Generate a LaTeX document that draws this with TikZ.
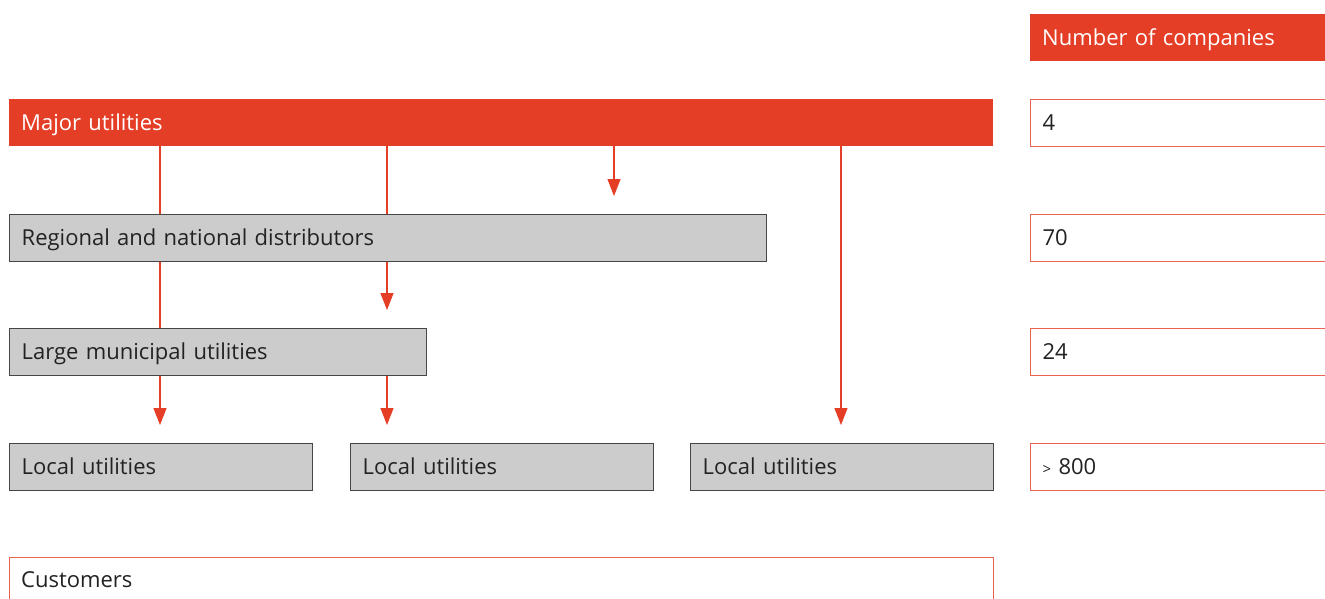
\documentclass[tikz,border=0pt]{standalone}
\usepackage{fontspec}
\setmainfont{Open Sans}
\usetikzlibrary{arrows.meta,backgrounds}
\definecolor{brandred}{RGB}{229,62,38}
\definecolor{edgered}{RGB}{236,98,80}
\definecolor{boxgray}{RGB}{204,204,204}
\definecolor{edgegray}{RGB}{70,70,70}
\definecolor{txt}{RGB}{34,34,34}
\begin{document}
\begin{tikzpicture}[x=1pt,y=-1pt,
  base/.style={rectangle, anchor=north west, minimum height=47pt,
    inner xsep=12pt, inner ysep=0pt, align=left,
    text height=18pt, text depth=3pt,
    font=\fontsize{22}{26}\selectfont, text=txt},
  redbar/.style={base, fill=brandred, draw=none, text=white},
  graybox/.style={base, fill=boxgray, draw=edgegray, line width=1.4pt},
  outlinebox/.style={base, fill=white, draw=edgered, line width=1.2pt},
  conn/.style={draw=brandred, line width=1.2pt,
    -{Triangle[width=13pt,length=17pt]}},
]
\clip (0,0) rectangle (1325,598);

% right column: number of companies
\node[redbar, minimum width=320pt, text width=296pt] (hdr) at (1030,14) {Number of companies};
\node[outlinebox, minimum width=320pt, text width=296pt] (n1) at (1030,99) {4};
\node[outlinebox, minimum width=320pt, text width=296pt] (n2) at (1030,214) {70};
\node[outlinebox, minimum width=320pt, text width=296pt] (n3) at (1030,328) {24};
\node[outlinebox, minimum width=320pt, text width=296pt] (n4) at (1030,443) {{\fontsize{15}{26}\selectfont >} 800};

% hierarchy
\node[redbar, minimum width=984pt, text width=960pt] (major) at (9,99) {Major utilities};
\node[graybox, minimum width=757pt, text width=733pt] (regional) at (9,214) {Regional and national distributors};
\node[graybox, minimum width=417pt, text width=393pt] (large) at (9,328) {Large municipal utilities};
\node[graybox, minimum width=303pt, text width=279pt] (localA) at (9,443) {Local utilities};
\node[graybox, minimum width=303pt, text width=279pt] (localB) at (350,443) {Local utilities};
\node[graybox, minimum width=303pt, text width=279pt] (localC) at (690,443) {Local utilities};
\node[outlinebox, minimum width=984pt, minimum height=70pt] (cust) at (9,557) {};
\node[anchor=base west, inner sep=0pt, font=\fontsize{22}{26}\selectfont, text=txt]
  (custtext) at (21,587) {Customers};

% connector columns
\coordinate (colA) at (160,0);
\coordinate (colB) at (387,0);
\coordinate (colC) at (614,0);
\coordinate (colD) at (841,0);

\begin{scope}[on background layer]
\fill[white] (0,0) rectangle (1325,598);
\draw[conn] (major.south -| colA) -- ([yshift=18pt]localA.north -| colA);
\draw[conn] (major.south -| colB) -- ([yshift=18pt]large.north -| colB);
\draw[conn] (large.south -| colB) -- ([yshift=18pt]localB.north -| colB);
\draw[conn] (major.south -| colC) -- ([yshift=18pt]regional.north -| colC);
\draw[conn] (major.south -| colD) -- ([yshift=18pt]localC.north -| colD);
\end{scope}
\end{tikzpicture}
\end{document}
